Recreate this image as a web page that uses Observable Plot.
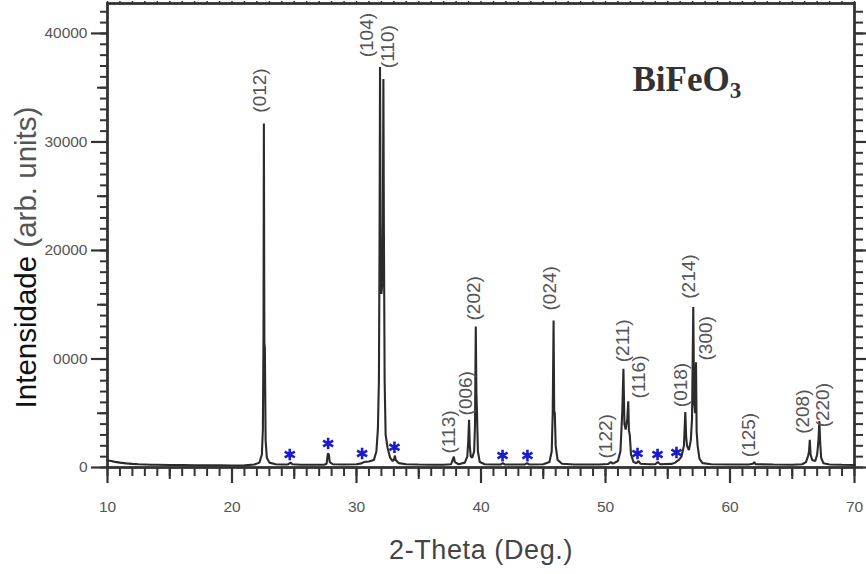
<!DOCTYPE html>
<html><head><meta charset="utf-8">
<script src="https://cdn.jsdelivr.net/npm/d3@7"></script>
<script src="https://cdn.jsdelivr.net/npm/@observablehq/plot@0.6"></script>
<style>body{margin:0;background:#fff;} #chart svg{display:block}</style>
</head><body><div id="chart"></div>
<script>
// XRD pattern (2-theta in degrees, intensity in arb. units)
const twoTheta = [10.0,10.3,10.6,11.0,11.5,12.0,12.5,13.0,13.5,14.0,15.0,16.0,17.0,18.0,19.0,20.0,21.0,21.8,22.2,22.4,22.48,22.53,22.56,22.6,22.64,22.7,22.8,23.0,23.5,24.0,24.5,24.7,24.85,25.5,26.5,27.4,27.6,27.7,27.78,27.85,28.1,29.0,30.0,30.4,30.6,31.0,31.4,31.6,31.72,31.8,31.85,31.89,31.94,32.0,32.08,32.12,32.16,32.2,32.26,32.34,32.5,32.7,32.9,33.0,33.09,33.15,33.4,34.0,35.0,36.0,37.0,37.6,37.75,37.82,37.9,38.2,38.7,38.9,38.98,39.04,39.1,39.18,39.3,39.45,39.52,39.58,39.63,39.68,39.75,39.9,40.3,41.0,41.6,41.75,41.9,43.5,43.7,43.85,45.0,45.5,45.68,45.76,45.83,45.88,45.93,46.0,46.15,46.5,47.5,48.5,49.5,50.2,50.43,50.6,51.0,51.2,51.35,51.44,51.52,51.62,51.75,51.83,51.88,51.95,52.05,52.25,52.5,52.65,52.8,53.5,54.0,54.2,54.4,55.3,55.6,55.75,55.9,56.1,56.3,56.41,56.48,56.55,56.7,56.85,56.95,57.05,57.12,57.2,57.27,57.32,57.4,57.55,57.8,58.5,60.0,61.5,61.85,61.95,62.05,63.5,65.0,65.8,66.1,66.28,66.35,66.41,66.47,66.6,66.85,67.0,67.1,67.18,67.24,67.32,67.5,68.0,69.0,70.0];
const intensity = [650,600,520,450,380,330,300,280,260,250,230,220,210,200,200,190,200,280,450,1200,3500,12000,31700,11500,11000,2500,900,450,300,280,280,450,300,260,250,260,350,1300,1200,500,300,280,300,380,500,550,700,1500,3600,8000,20600,36900,20000,16000,17000,22600,35800,22000,8000,3000,1800,900,600,700,1100,700,400,300,270,260,260,300,800,1000,500,300,450,1000,2500,4400,2000,1000,900,1500,4000,13000,6900,5000,1500,500,300,270,280,400,280,270,400,280,300,500,1500,5000,13550,5200,5000,2000,700,350,280,270,280,320,500,350,600,1500,5200,9100,4000,3500,4500,6100,3400,3000,1200,500,400,600,350,300,300,500,300,330,450,600,700,1000,2000,5100,2800,2000,1600,2500,4500,14800,6000,5000,9700,3300,2000,800,400,300,280,280,350,500,300,270,260,300,500,1100,1500,2550,1200,700,600,1200,2400,4270,2400,900,400,280,250,230];

// Miller-index labels
const peakLabels = ["(012)","(104)","(110)","(113)","(006)","(202)","(024)","(122)","(211)","(116)","(018)","(214)","(300)","(125)","(208)","(220)"];
const peakLabelTheta = [22.22,30.82,32.53,37.44,38.78,39.40,45.55,50.03,51.37,52.71,56.06,56.73,58.07,61.55,65.84,67.45];
const peakLabelBase = [32700,37800,36800,1300,4800,13550,14470,830,9700,6360,5560,15550,9860,950,3100,3700];

// impurity markers (*)
const starTheta = [24.64,27.72,30.45,33.05,41.73,43.73,52.57,54.18,55.70];
const starIntensity = [1200,2210,1290,1870,1100,1100,1290,1200,1380];

const xTicks = [10,20,30,40,50,60,70];
const yTicks = [0,10000,20000,30000,40000];
const yTickLabels = ["0","0000","20000","30000","40000"];
const formula = "BiFeO3";
const xTitle = "2-Theta (Deg.)";
const yTitle = "Intensidade (arb. units)";

const xMinor = d3.range(10, 71, 1);
const xMid = d3.range(15, 70, 10);
const yMinor = d3.range(0, 43000, 1000);
const yMid = d3.range(5000, 43000, 10000);

const axisColor = "#333";
const textColor = "#555";

const chart = Plot.plot({
  width: 866,
  height: 574,
  marginLeft: 107,
  marginRight: 12,
  marginTop: 3,
  marginBottom: 107,
  style: {fontFamily: "'Liberation Sans', Arial, sans-serif", background: "#fff", overflow: "visible"},
  x: {domain: [10, 70]},
  y: {domain: [0, 42760]},
  marks: [
    // bottom axis
    Plot.axisX(xMinor, {anchor: "bottom", tickSize: 9, tickFormat: () => "", label: null, stroke: axisColor, strokeWidth: 2}),
    Plot.axisX(xMid, {anchor: "bottom", tickSize: 12, tickFormat: () => "", label: null, stroke: axisColor, strokeWidth: 2}),
    Plot.axisX(xTicks, {anchor: "bottom", tickSize: 16, tickPadding: 17, fontSize: 15.5, fill: textColor, stroke: axisColor, strokeWidth: 2.2, label: null}),
    // top ticks
    Plot.axisX(xMinor, {anchor: "top", tickSize: 3, tickFormat: () => "", label: null, stroke: axisColor, strokeWidth: 1.5}),
    // left axis
    Plot.axisY(yMinor, {anchor: "left", tickSize: 7, tickFormat: () => "", label: null, stroke: axisColor, strokeWidth: 2}),
    Plot.axisY(yMid, {anchor: "left", tickSize: 10, tickFormat: () => "", label: null, stroke: axisColor, strokeWidth: 2}),
    Plot.axisY(yTicks, {anchor: "left", tickSize: 16, tickPadding: 4, fontSize: 15.5, fill: textColor, stroke: axisColor, strokeWidth: 2.2, label: null,
      tickFormat: d => yTickLabels[yTicks.indexOf(d)]}),
    // right axis
    Plot.axisY(yMinor, {anchor: "right", tickSize: 8, tickFormat: () => "", label: null, stroke: axisColor, strokeWidth: 2}),
    Plot.axisY(yTicks, {anchor: "right", tickSize: 12, tickFormat: () => "", label: null, stroke: axisColor, strokeWidth: 2.2}),
    Plot.frame({stroke: axisColor, strokeWidth: 2.8}),
    // pattern
    Plot.line(twoTheta.map((t, i) => ({t, v: intensity[i]})), {x: "t", y: "v", stroke: "#2b2b2b", strokeWidth: 2.1, strokeLinejoin: "miter"}),
    // labels
    Plot.text(d3.range(peakLabels.length), {
      x: i => peakLabelTheta[i], y: i => peakLabelBase[i], text: i => peakLabels[i],
      rotate: -90, textAnchor: "start", lineAnchor: "middle", fontSize: 19, fill: textColor
    }),
    Plot.dot(d3.range(starTheta.length), {
      x: i => starTheta[i], y: i => starIntensity[i], symbol: "asterisk", r: 5.5,
      stroke: "#1a1ad0", strokeWidth: 2.6
    }),
    // formula annotation
    Plot.text([formula], {frameAnchor: "top-left", dx: 525, dy: 87, textAnchor: "start", lineAnchor: "bottom",
      fontSize: 35, fontWeight: "bold", fontFamily: "'Liberation Serif', 'Times New Roman', serif", fill: "#333"}),
    // axis titles
    Plot.text([xTitle], {frameAnchor: "bottom", dy: 83, textAnchor: "middle", lineAnchor: "middle", fontSize: 27, fill: "#444"}),
    Plot.text([yTitle], {frameAnchor: "left", dx: -81, dy: 22, rotate: -90, textAnchor: "middle", lineAnchor: "middle", fontSize: 29.5, fill: "#111"})
  ]
});

document.getElementById("chart").appendChild(chart);

// subscript in formula, two-tone y title, wider x title
d3.select(chart).selectAll("text").each(function() {
  const t = d3.select(this);
  if (this.textContent === formula) {
    t.text(null);
    t.append("tspan").text("BiFeO");
    t.append("tspan").attr("font-size", 23).attr("dy", 7).text("3");
  } else if (this.textContent === yTitle) {
    t.text(null);
    t.append("tspan").attr("fill", "#111").text("Intensidade ");
    t.append("tspan").attr("fill", "#555").text("(arb. units)");
  } else if (this.textContent === xTitle) {
    t.attr("letter-spacing", "0.6px");
  }
});
</script>
</body></html>
